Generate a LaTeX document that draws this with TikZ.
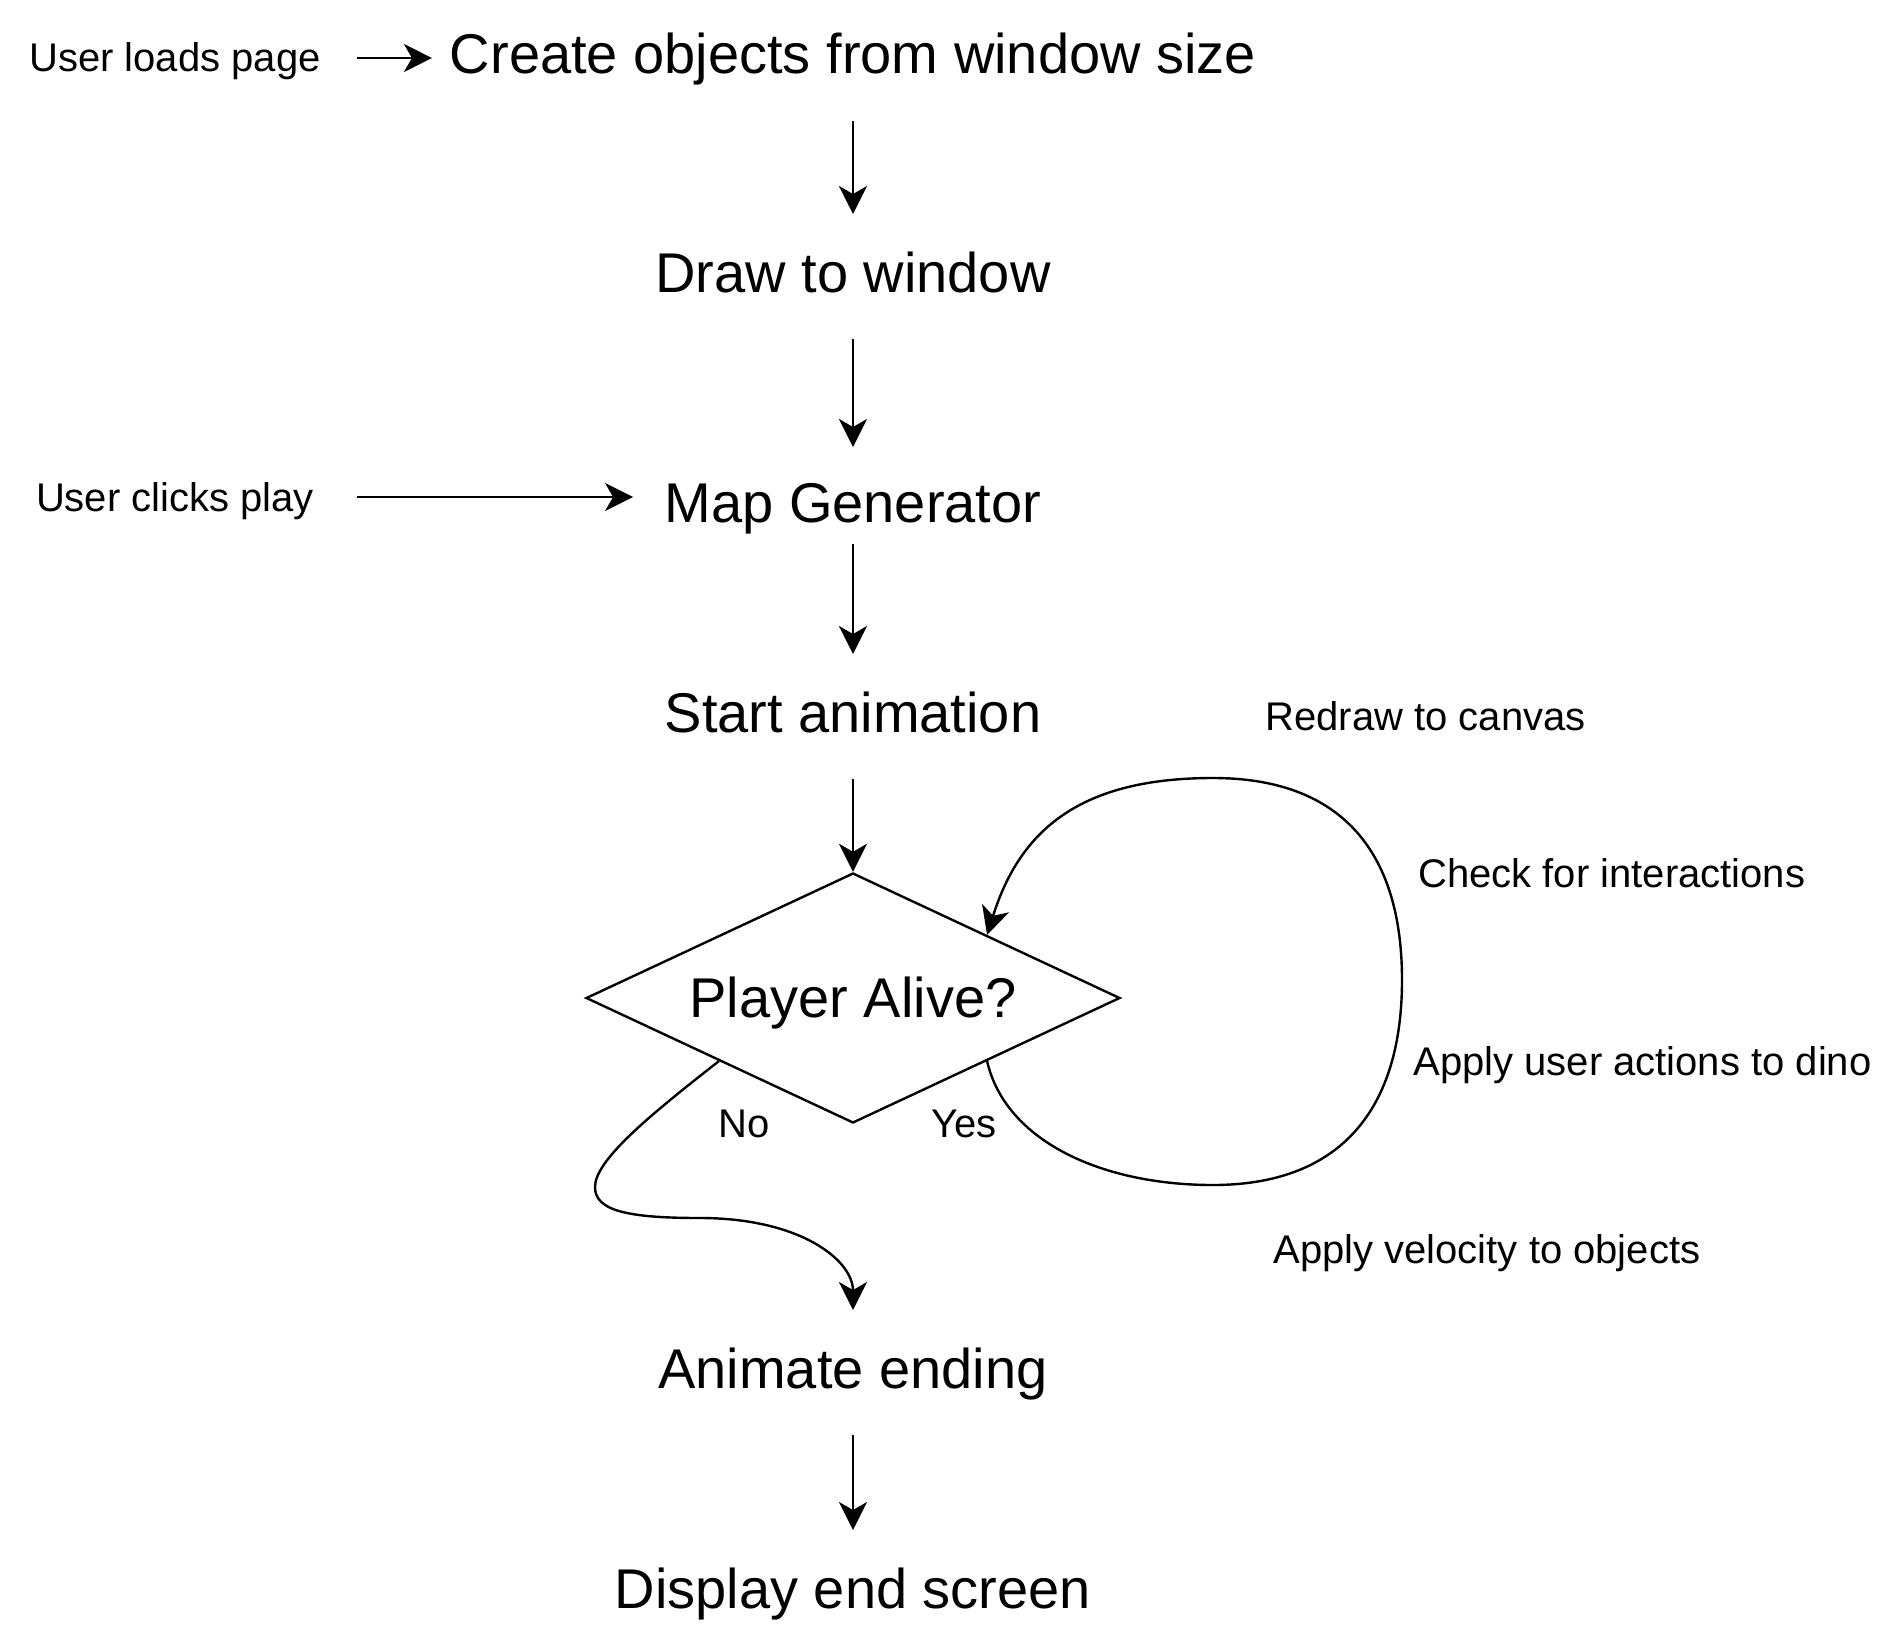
\documentclass[tikz,border=0pt]{standalone}
\usepackage{fontspec}
\setmainfont{Liberation Sans}
\usetikzlibrary{arrows.meta,shapes.geometric,calc}
\newcommand\fbig{\fontsize{28pt}{34pt}\selectfont}
\newcommand\fsmall{\fontsize{20pt}{24pt}\selectfont}
\begin{document}
\begin{tikzpicture}[x=0.5pt,y=-0.5pt,
  big/.style={font=\fbig, inner sep=0pt, outer sep=0pt, anchor=base, text height=39pt, text depth=23.5pt},
  small/.style={font=\fsmall, inner sep=0pt, outer sep=0pt, anchor=base, text height=14pt, text depth=0pt},
  side/.style={font=\fsmall, inner sep=0pt, anchor=base west},
  lab/.style={font=\fsmall, inner sep=0pt, anchor=base},
  arr/.style={-{Stealth[length=14pt,width=14pt,inset=4pt]}, line width=1.2pt},
  decision/.style={draw, line width=1.2pt, diamond, aspect=2.136, minimum width=267pt, minimum height=125pt,
    inner sep=0pt, font=\fbig, text height=19.5pt, text depth=0pt}]
\fill[white] (0,0) rectangle (1878,1632);
\useasboundingbox (0,0) rectangle (1878,1632);

% main column
\node[big] (create) at (853,74) {Create objects from window size};
\node[big] (draw) at (853,292) {Draw to window};
\node[big, text height=37.5pt, text depth=11pt] (map) at (853,522) {Map Generator};
\node[big] (start) at (853,732) {Start animation};
\node[decision] (dia) at (853,998) {Player Alive?};
\node[big] (animate) at (853,1388) {Animate ending};
\node[big] (display) at (853,1608) {Display end screen};

% side labels
\node[small] (loads) at (175,72) {User loads page};
\node[small] (clicks) at (175,511) {User clicks play};
\node[side] (redraw) at (1265,730) {Redraw to canvas};
\node[side] (check) at (1418,887) {Check for interactions};
\node[side] (apply) at (1413,1075) {Apply user actions to dino};
\node[side] (velocity) at (1273,1263) {Apply velocity to objects};
\node[lab] (no) at (744.5,1137) {No};
\node[lab] (yes) at (964,1137) {Yes};

% straight connectors
\draw[arr, shorten <=18.2pt, shorten >=9pt] (loads.east) -- (loads.east -| create.west);
\draw[arr] (create.south) -- (draw.north);
\draw[arr] (draw.south) -- (map.north);
\draw[arr, shorten <=21.5pt, shorten >=15.8pt] (clicks.east) -- (clicks.east -| map.west);
\draw[arr] (map.south) -- (start.north);
\draw[arr] (start.south) -- (dia.north);
\draw[arr] (animate.south) -- (display.north);

% curved connectors
\coordinate (yesS) at ($(dia.east)!0.5!(dia.south)$);
\coordinate (yesE) at ($(dia.north)!0.5!(dia.east)$);
\coordinate (noS) at ($(dia.west)!0.5!(dia.south)$);

\draw[arr] (yesS) .. controls (1005,1140) and (1100,1185) .. (1213,1185)
  .. controls (1340,1185) and (1402,1110) .. (1402,980)
  .. controls (1402,850) and (1340,778) .. (1213,778)
  .. controls (1080,778) and (1020,830) .. (yesE);

\draw[arr] (noS) .. controls (650,1115) and (595,1160) .. (595,1187)
  .. controls (595,1210) and (625,1218) .. (700,1218)
  .. controls (800,1218) and (853,1260) .. (animate.north);
\end{tikzpicture}
\end{document}
